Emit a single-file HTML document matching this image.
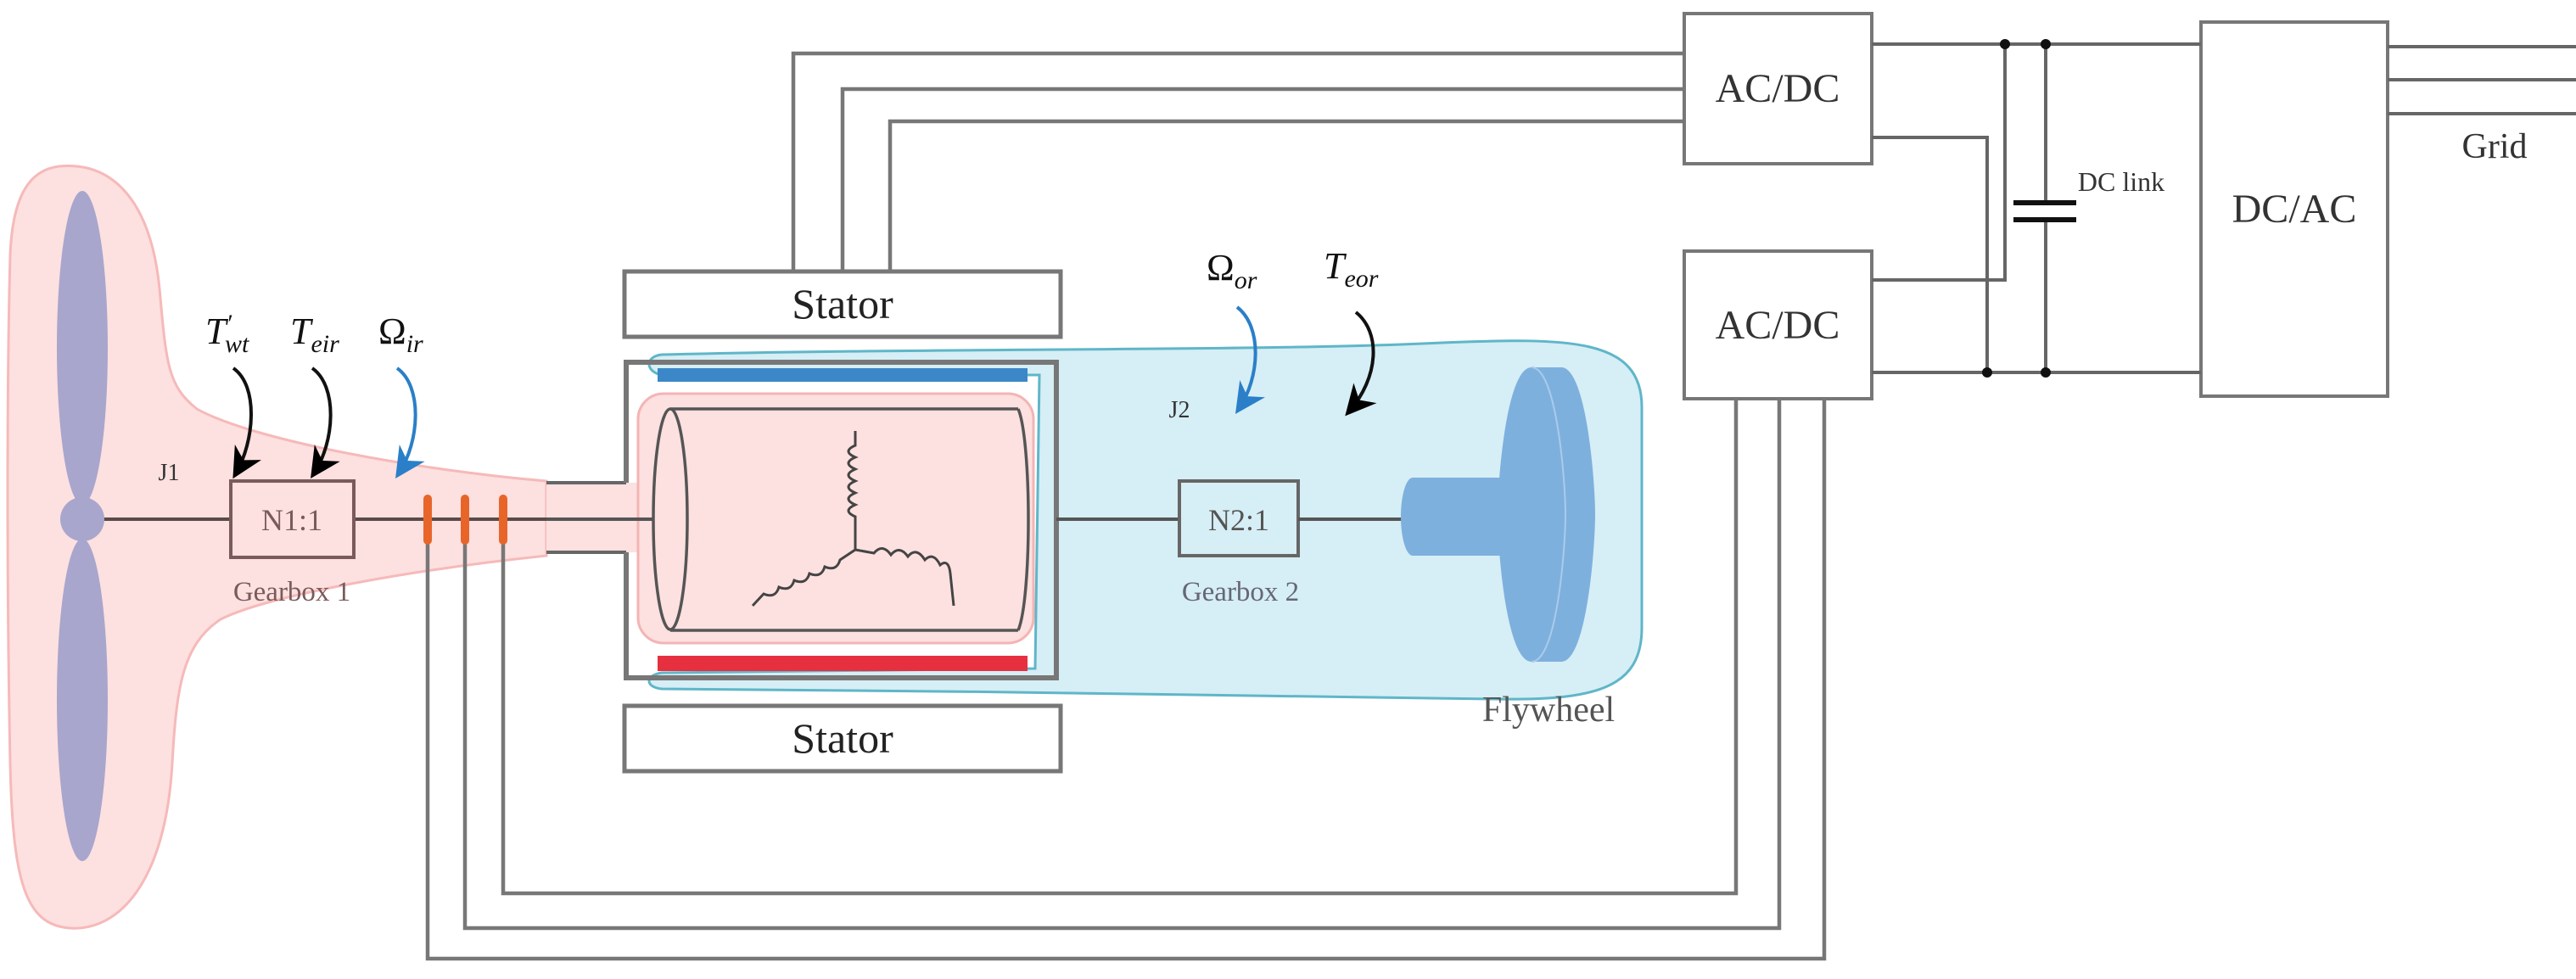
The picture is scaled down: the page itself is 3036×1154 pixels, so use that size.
<!DOCTYPE html>
<html><head><meta charset="utf-8"><style>
html,body{margin:0;padding:0;background:#fff;overflow:hidden;}
svg{display:block;}
text{font-family:"Liberation Serif",serif;}
</style></head><body>
<svg width="3036" height="1154" viewBox="0 0 3036 1154" xmlns="http://www.w3.org/2000/svg">
<defs>
<marker id="ab" viewBox="0 0 10 10" refX="8" refY="5" markerWidth="9" markerHeight="9" orient="auto"><path d="M0,0 L10,5 L0,10 L3,5 z" fill="#000"/></marker>
<marker id="au" viewBox="0 0 10 10" refX="8" refY="5" markerWidth="9" markerHeight="9" orient="auto"><path d="M0,0 L10,5 L0,10 L3,5 z" fill="#2a7fc8"/></marker>
</defs>
<!-- pink turbine blob -->
<path d="M70,196 C135,190 178,240 188,340 C196,430 198,455 232,482 C300,520 500,555 644,567 L644,655 C500,670 320,700 260,730 C215,760 208,810 203,900 C195,1040 140,1098 82,1094 C30,1090 15,1040 12,900 C8,700 8,450 12,300 C15,230 35,200 70,196 Z" fill="#fde0e0" stroke="#f6b9b9" stroke-width="3"/>
<rect x="644" y="569" width="110" height="82" fill="#fde0e0"/>
<!-- blue blob -->
<path d="M780,418 C1100,410 1500,414 1700,404 C1850,398 1935,398 1935,480 L1935,740 C1935,812 1880,826 1760,824 C1500,818 1100,815 780,812 C760,810 760,796 780,793 L1220,788 L1225,442 L780,442 C760,438 760,420 780,418 Z" fill="#d6eef5" stroke="#5fb6c8" stroke-width="3"/>
<!-- rotor pink region -->
<rect x="752" y="464" width="466" height="294" rx="30" fill="#fde0e0" stroke="#f4b4b4" stroke-width="3"/>
<!-- blades -->
<ellipse cx="97" cy="410" rx="30" ry="185" fill="#a8a6cc"/>
<ellipse cx="97" cy="825" rx="30" ry="190" fill="#a8a6cc"/>
<!-- shaft -->
<line x1="97" y1="612" x2="272" y2="612" stroke="#5a4a4a" stroke-width="4"/>
<line x1="417" y1="612" x2="644" y2="612" stroke="#5a4a4a" stroke-width="4"/>
<circle cx="97" cy="612" r="26" fill="#a8a6cc"/>
<rect x="272" y="567" width="145" height="90" fill="none" stroke="#7a5a5a" stroke-width="4"/>
<text x="344" y="625" font-size="36" text-anchor="middle" fill="#7a5a5a">N1:1</text>
<text x="344" y="708" font-size="33" text-anchor="middle" fill="#7a5a5a">Gearbox 1</text>
<text x="199" y="566" font-size="28" text-anchor="middle" fill="#333">J1</text>
<!-- shaft stub -->
<line x1="644" y1="569" x2="738" y2="569" stroke="#666" stroke-width="4"/>
<line x1="644" y1="651" x2="738" y2="651" stroke="#666" stroke-width="4"/>
<line x1="644" y1="612" x2="770" y2="612" stroke="#555" stroke-width="4"/>
<!-- housing -->
<path d="M738,569 L738,427 L1245,427 L1245,799 L738,799 L738,651" fill="none" stroke="#777" stroke-width="6"/>
<rect x="775" y="434" width="436" height="16" fill="#3c87c8"/>
<rect x="775" y="773" width="436" height="18" fill="#e63040"/>
<!-- rotor cylinder -->
<path d="M790,482 L1200,482 M790,743 L1200,743" stroke="#555" stroke-width="3.5"/>
<ellipse cx="790" cy="612" rx="20" ry="130" fill="none" stroke="#555" stroke-width="3.5"/>
<path d="M1200,482 C1216,520 1216,705 1200,743" fill="none" stroke="#555" stroke-width="3.5"/>
<!-- wye winding -->
<g fill="none" stroke="#444" stroke-width="3">
<path d="M1008,508 L1008,525 q-16,7 0,14 q-16,7 0,14 q-16,7 0,14 q-16,7 0,14 q-16,7 0,14 q-16,7 0,14 L1008,648"/>
<path d="M1008,648 L990,660 q-4,14 -18,8 q-4,14 -18,8 q-4,14 -18,8 q-4,14 -18,8 q-4,14 -18,8 L887,714"/>
<path d="M1008,648 L1030,652 q10,-12 20,2 q10,-12 20,2 q10,-12 20,4 q10,-10 18,6 q10,-8 12,10 L1124,714"/>
</g>
<line x1="1245" y1="612" x2="1390" y2="612" stroke="#555" stroke-width="4"/>
<rect x="1390" y="567" width="140" height="88" fill="none" stroke="#666" stroke-width="4"/>
<text x="1460" y="625" font-size="36" text-anchor="middle" fill="#555">N2:1</text>
<text x="1462" y="708" font-size="33" text-anchor="middle" fill="#667">Gearbox 2</text>
<text x="1390" y="492" font-size="28" text-anchor="middle" fill="#333">J2</text>
<line x1="1530" y1="612" x2="1670" y2="612" stroke="#555" stroke-width="4"/>
<!-- flywheel -->
<rect x="1665" y="563" width="120" height="92" fill="#7eb0de"/>
<ellipse cx="1665" cy="609" rx="14" ry="46" fill="#7eb0de"/>
<path d="M1805,433 L1840,433 C1870,433 1880,570 1880,606 C1880,645 1870,780 1840,780 L1805,780 C1775,780 1765,645 1765,606 C1765,570 1775,433 1805,433 Z" fill="#7eb0de"/>
<path d="M1805,433 C1835,433 1845,570 1845,606 C1845,645 1835,780 1805,780" fill="none" stroke="#a9cbea" stroke-width="2"/>
<text x="1825" y="850" font-size="42" text-anchor="middle" fill="#555">Flywheel</text>
<!-- stators -->
<rect x="736" y="320" width="514" height="77" fill="#fff" stroke="#777" stroke-width="5"/>
<text x="993" y="375" font-size="50" text-anchor="middle" fill="#222">Stator</text>
<rect x="736" y="832" width="514" height="77" fill="#fff" stroke="#777" stroke-width="5"/>
<text x="993" y="887" font-size="50" text-anchor="middle" fill="#222">Stator</text>
<!-- wires -->
<g fill="none" stroke="#777" stroke-width="4.5">
<polyline points="935,320 935,63 1985,63"/>
<polyline points="993,320 993,105 1985,105"/>
<polyline points="1049,320 1049,143 1985,143"/>
<polyline points="504,640 504,1130 2150,1130 2150,470"/>
<polyline points="548,640 548,1094 2097,1094 2097,470"/>
<polyline points="593,640 593,1053 2046,1053 2046,470"/>
</g>
<!-- brushes -->
<g stroke="#e8652a" stroke-width="10" stroke-linecap="round">
<line x1="504" y1="588" x2="504" y2="637"/><line x1="548" y1="588" x2="548" y2="637"/><line x1="593" y1="588" x2="593" y2="637"/>
</g>
<!-- converters -->
<rect x="1985" y="16" width="221" height="177" fill="#fff" stroke="#777" stroke-width="4"/>
<text x="2095" y="120" font-size="48" text-anchor="middle" fill="#333">AC/DC</text>
<rect x="1985" y="296" width="221" height="174" fill="#fff" stroke="#777" stroke-width="4"/>
<text x="2095" y="399" font-size="48" text-anchor="middle" fill="#333">AC/DC</text>
<rect x="2594" y="26" width="220" height="441" fill="#fff" stroke="#777" stroke-width="4"/>
<text x="2704" y="262" font-size="48" text-anchor="middle" fill="#333">DC/AC</text>
<g fill="none" stroke="#666" stroke-width="4">
<line x1="2206" y1="52" x2="2594" y2="52"/>
<line x1="2206" y1="439" x2="2594" y2="439"/>
<polyline points="2206,162 2342,162 2342,439"/>
<polyline points="2206,330 2363,330 2363,52"/>
<line x1="2411" y1="52" x2="2411" y2="239"/>
<line x1="2411" y1="259" x2="2411" y2="439"/>
<line x1="2814" y1="55" x2="3036" y2="55"/>
<line x1="2814" y1="94" x2="3036" y2="94"/>
<line x1="2814" y1="134" x2="3036" y2="134"/>
</g>
<g stroke="#111" stroke-width="6"><line x1="2373" y1="239" x2="2447" y2="239"/><line x1="2373" y1="259" x2="2447" y2="259"/></g>
<g fill="#111"><circle cx="2363" cy="52" r="6"/><circle cx="2411" cy="52" r="6"/><circle cx="2342" cy="439" r="6"/><circle cx="2411" cy="439" r="6"/></g>
<text x="2500" y="225" font-size="32" text-anchor="middle" fill="#333">DC link</text>
<text x="2940" y="186" font-size="42" text-anchor="middle" fill="#333">Grid</text>
<!-- torque/speed labels -->
<g font-style="italic" font-size="44" fill="#111">
<text x="242" y="405">T<tspan font-size="30" dy="-14">′</tspan><tspan font-size="30" dy="24" dx="-8">wt</tspan></text>
<text x="342" y="405">T<tspan font-size="30" dy="10">eir</tspan></text>
<text x="446" y="405" font-style="normal">Ω<tspan font-size="30" dy="10" font-style="italic">ir</tspan></text>
<text x="1422" y="330" font-style="normal">Ω<tspan font-size="30" dy="10" font-style="italic">or</tspan></text>
<text x="1560" y="328">T<tspan font-size="30" dy="10">eor</tspan></text>
</g>
<g fill="none" stroke-width="4">
<path d="M275,434 C305,455 300,520 278,558" stroke="#111" marker-end="url(#ab)"/>
<path d="M368,434 C398,455 395,520 370,558" stroke="#111" marker-end="url(#ab)"/>
<path d="M468,434 C498,455 495,520 470,558" stroke="#2a7fc8" marker-end="url(#au)"/>
<path d="M1458,362 C1488,385 1485,445 1460,482" stroke="#2a7fc8" marker-end="url(#au)"/>
<path d="M1598,368 C1628,392 1625,445 1590,485" stroke="#111" marker-end="url(#ab)"/>
</g>
</svg>
</body></html>
